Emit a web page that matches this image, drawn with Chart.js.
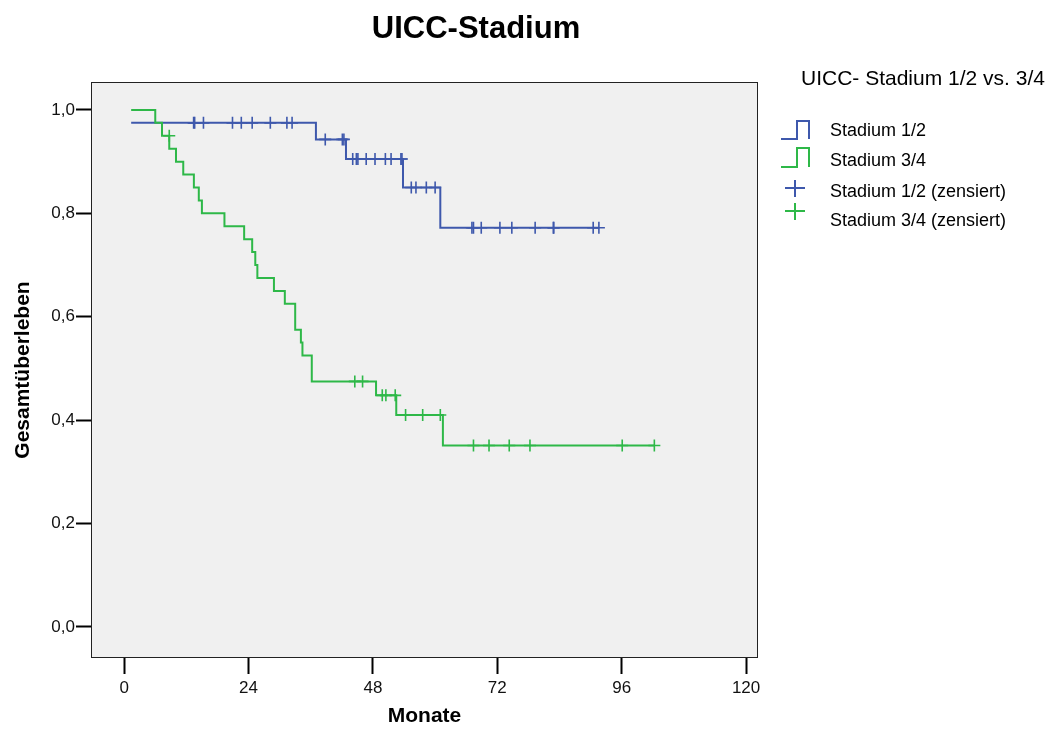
<!DOCTYPE html>
<html>
<head>
<meta charset="utf-8">
<title>UICC-Stadium</title>
<script src="https://cdn.jsdelivr.net/npm/chart.js@4.4.1/dist/chart.umd.min.js"></script>
<style>
  body { margin: 0; background: #fff; }
  #wrap { width: 1053px; height: 729px; }
</style>
</head>
<body>
<div id="wrap"><canvas id="chart" width="1053" height="729"></canvas></div>
<script>
// ===== Data =====
const xTicks = [0, 24, 48, 72, 96, 120];
const yTicks = [0, 0.2, 0.4, 0.6, 0.8, 1.0];

// Stadium 1/2: event times (months) and survival after each step
const blueTimes = [1.35, 37.0, 42.8, 53.8, 61.0, 91.6];
const blueSurv  = [0.975, 0.943, 0.905, 0.85, 0.772, 0.772];
const blueCensored = [13.4, 13.6, 15.3, 20.9, 22.6, 24.7, 28.2, 31.4, 32.4,
  38.8, 42.1, 42.4,
  44.1, 44.8, 45.1, 46.7, 48.4, 50.4, 51.5, 53.4, 53.6,
  55.4, 56.3, 58.3, 60.0,
  67.1, 67.4, 68.9, 72.5, 74.8, 79.3, 82.8, 82.9, 90.5, 91.6];

// Stadium 3/4
const greenTimes = [1.35, 6.0, 7.3, 8.7, 10.0, 11.4, 13.45, 14.4, 15.0, 19.35,
  23.15, 24.7, 25.3, 25.7, 28.9, 31.0, 33.0, 34.1, 34.4, 36.2, 48.6, 52.5, 61.5, 102.3];
const greenSurv  = [1.0, 0.975, 0.95, 0.925, 0.90, 0.875, 0.85, 0.825, 0.80, 0.775,
  0.75, 0.725, 0.70, 0.675, 0.65, 0.625, 0.575, 0.55, 0.525, 0.475, 0.448, 0.41, 0.351, 0.351];
const greenCensored = [8.7, 44.5, 46.0, 49.8, 50.5, 52.3, 54.3, 57.6, 61.0,
  67.4, 70.4, 74.3, 78.3, 96.1, 102.3];

const seriesNames = ['Stadium 1/2', 'Stadium 3/4', 'Stadium 1/2 (zensiert)', 'Stadium 3/4 (zensiert)'];
const BLUE = '#3E58AC';
const GREEN = '#2EB848';
const FONT = '"Liberation Sans", Arial, sans-serif';

// survival level just before time t
function survAt(times, surv, t) {
  let s = surv[0];
  for (let i = 0; i < times.length; i++) {
    if (times[i] < t) s = surv[i];
  }
  return s;
}

const toPoints = (times, surv) => times.map((t, i) => ({ x: t, y: surv[i] }));
const censorPoints = (cens, times, surv) => cens.map(t => ({ x: t, y: survAt(times, surv, t) }));

// ===== Plot background, frame, title and legend =====
const decor = {
  id: 'decor',
  beforeDraw(chart) {
    const { ctx, chartArea: a } = chart;
    ctx.save();
    ctx.fillStyle = '#F0F0F0';
    ctx.fillRect(a.left, a.top, a.right - a.left, a.bottom - a.top);
    ctx.restore();
  },
  afterDraw(chart) {
    const { ctx, chartArea: a } = chart;
    ctx.save();
    ctx.strokeStyle = '#222';
    ctx.lineWidth = 1;
    ctx.strokeRect(a.left + 0.5, a.top + 0.5, a.right - a.left - 1, a.bottom - a.top - 1);

    // main title
    ctx.fillStyle = '#000';
    ctx.font = 'bold 31px ' + FONT;
    ctx.textAlign = 'center';
    ctx.textBaseline = 'alphabetic';
    ctx.fillText('UICC-Stadium', 476, 38);

    // legend
    ctx.textAlign = 'left';
    ctx.textBaseline = 'middle';
    ctx.font = '21px ' + FONT;
    ctx.fillText('UICC- Stadium 1/2 vs. 3/4', 801, 79);

    ctx.font = '18px ' + FONT;
    const rows = [131, 161, 192, 221];
    const cols = [BLUE, GREEN, BLUE, GREEN];
    ctx.lineWidth = 2;
    rows.forEach((y, i) => {
      ctx.strokeStyle = cols[i];
      ctx.beginPath();
      if (i < 2) {
        const top = i === 0 ? 121 : 148;
        const bot = i === 0 ? 139 : 167;
        ctx.moveTo(781, bot);
        ctx.lineTo(797, bot);
        ctx.lineTo(797, top);
        ctx.lineTo(809, top);
        ctx.lineTo(809, bot);
      } else {
        const cy = i === 2 ? 188 : 211;
        ctx.moveTo(785, cy);
        ctx.lineTo(805, cy);
        ctx.moveTo(795, cy - 8);
        ctx.lineTo(795, cy + 9);
      }
      ctx.stroke();
      ctx.fillStyle = '#000';
      ctx.fillText(seriesNames[i], 830, y);
    });
    ctx.restore();
  }
};

new Chart(document.getElementById('chart'), {
  type: 'line',
  data: {
    datasets: [
      {
        label: seriesNames[0],
        data: toPoints(blueTimes, blueSurv),
        borderColor: BLUE,
        borderWidth: 2,
        stepped: true,
        pointRadius: 0,
        fill: false,
        order: 2
      },
      {
        label: seriesNames[1],
        data: toPoints(greenTimes, greenSurv),
        borderColor: GREEN,
        borderWidth: 2,
        stepped: true,
        pointRadius: 0,
        fill: false,
        order: 1
      },
      {
        label: seriesNames[2],
        data: censorPoints(blueCensored, blueTimes, blueSurv),
        showLine: false,
        pointStyle: 'cross',
        pointRadius: 6,
        pointBorderWidth: 1.6,
        pointBorderColor: BLUE,
        borderColor: BLUE
      },
      {
        label: seriesNames[3],
        data: censorPoints(greenCensored, greenTimes, greenSurv),
        showLine: false,
        pointStyle: 'cross',
        pointRadius: 6,
        pointBorderWidth: 1.6,
        pointBorderColor: GREEN,
        borderColor: GREEN
      }
    ]
  },
  options: {
    responsive: false,
    animation: false,
    layout: { padding: { top: 82, right: 295, left: 0, bottom: 0 } },
    plugins: {
      legend: { display: false },
      tooltip: { enabled: false },
      title: { display: false }
    },
    scales: {
      x: {
        type: 'linear',
        min: -6.4,
        max: 122.3,
        afterFit: s => { s.height = 71; },
        afterBuildTicks: s => { s.ticks = xTicks.map(v => ({ value: v })); },
        grid: { drawOnChartArea: false, tickLength: 16, tickColor: '#000', tickWidth: 2 },
        border: { display: false },
        ticks: {
          color: '#111',
          padding: 4,
          maxRotation: 0,
          font: { family: FONT, size: 17 }
        },
        title: {
          display: true,
          text: 'Monate',
          color: '#000',
          padding: { top: 0, bottom: 0 },
          font: { family: FONT, size: 21, weight: 'bold' }
        }
      },
      y: {
        type: 'linear',
        min: -0.06,
        max: 1.054,
        afterFit: s => { s.width = 91; },
        afterBuildTicks: s => { s.ticks = yTicks.map(v => ({ value: v })); },
        grid: { drawOnChartArea: false, tickLength: 15, tickColor: '#000', tickWidth: 2 },
        border: { display: false },
        ticks: {
          color: '#111',
          padding: 1,
          font: { family: FONT, size: 17 },
          callback: v => v.toFixed(1).replace('.', ',')
        },
        title: {
          display: true,
          text: 'Gesamtüberleben',
          color: '#000',
          padding: { top: 11, bottom: 0 },
          font: { family: FONT, size: 21, weight: 'bold' }
        }
      }
    }
  },
  plugins: [decor]
});
</script>
</body>
</html>
